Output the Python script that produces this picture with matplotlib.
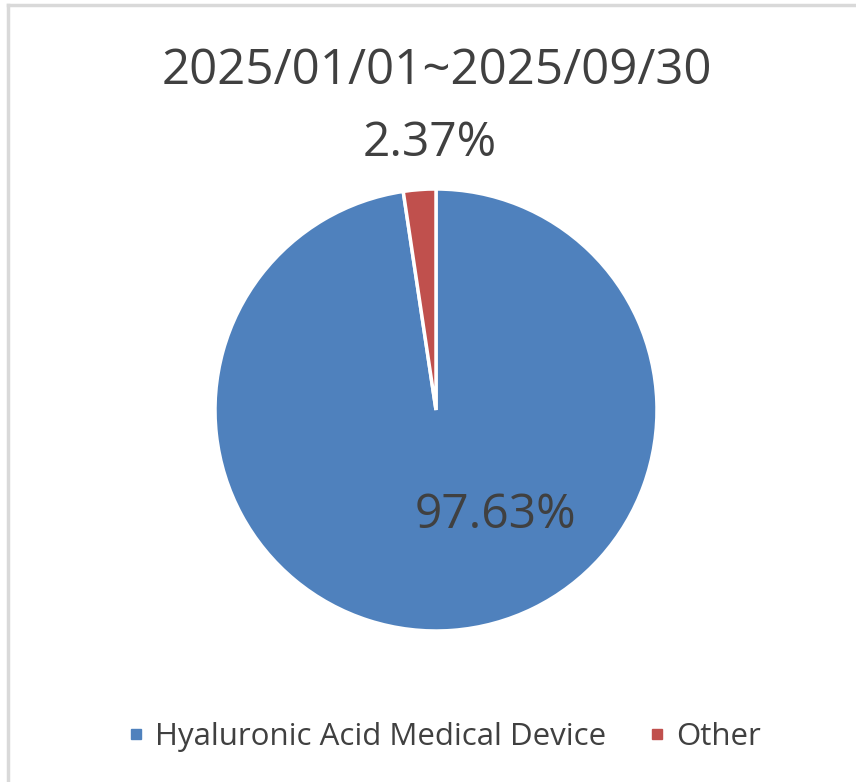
import matplotlib.pyplot as plt
from matplotlib.lines import Line2D
import numpy as np

# share of sales by product line
categories = ["Hyaluronic Acid Medical Device", "Other"]
shares = [97.63, 2.37]
colors = ["#4F81BD", "#C0504D"]
title = "2025/01/01~2025/09/30"

plt.rcParams["font.family"] = ["Open Sans", "DejaVu Sans"]
text_color = "#404040"

W, H = 856, 782
fig = plt.figure(figsize=(W / 100, H / 100), dpi=100)

# pie area in pixels: center (436, 410), radius 221
cx, cy, r = 436, 410, 221
ax = fig.add_axes([(cx - r) / W, (H - cy - r) / H, 2 * r / W, 2 * r / H])
wedges, _ = ax.pie(shares, colors=colors, startangle=90, counterclock=False,
                   radius=1.0, wedgeprops=dict(edgecolor="white", linewidth=2.5))
ax.set_xlim(-1, 1)
ax.set_ylim(-1, 1)
ax.set_aspect("equal")
ax.axis("off")

# data labels (best-fit style placement)
label_pos = [(0.27, -0.475), (-0.027, 1.208)]
for val, (x, y) in zip(shares, label_pos):
    ax.text(x, y, f"{val:.2f}%", ha="center", va="center", fontsize=34.5,
            color=text_color, clip_on=False)

fig.text(437 / W, 1 - 71 / H, title, ha="center", va="center",
         fontsize=35.5, color=text_color)

# legend
handles = [Line2D([], [], marker="s", linestyle="none", markersize=6.5,
                  markerfacecolor=c, markeredgecolor=c) for c in colors]
fig.legend(handles, categories, loc="center", bbox_to_anchor=(443 / W, 1 - 737 / H),
           ncol=2, frameon=False, fontsize=22.5, labelcolor=text_color,
           handletextpad=0.25, columnspacing=1.3, handlelength=0.7)

# light frame on top and left
fig.add_artist(Line2D([8 / W, 8 / W], [0, 1 - 5 / H], color="#d9d9d9", linewidth=2.5,
                      transform=fig.transFigure))
fig.add_artist(Line2D([8 / W, 1], [1 - 5 / H, 1 - 5 / H], color="#d9d9d9", linewidth=2.5,
                      transform=fig.transFigure))

fig.savefig("out.png", dpi=100, facecolor="white")
